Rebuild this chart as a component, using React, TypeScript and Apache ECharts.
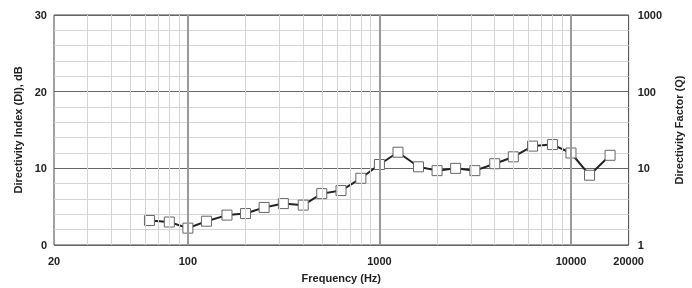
import React, { useEffect, useRef } from "react";
import * as echarts from "echarts";

const frequencies = [63, 80, 100, 125, 160, 200, 250, 315, 400, 500, 630, 800, 1000, 1250, 1600, 2000, 2500, 3150, 4000, 5000, 6300, 8000, 10000, 12500, 16000];
const diValues = [3.2, 3.0, 2.2, 3.1, 3.9, 4.1, 4.9, 5.4, 5.2, 6.7, 7.1, 8.7, 10.5, 12.1, 10.2, 9.7, 10.0, 9.7, 10.6, 11.5, 12.9, 13.1, 12.0, 9.1, 11.7];
const minorFreqGrid = [30, 40, 50, 60, 70, 80, 90, 200, 300, 400, 500, 600, 700, 800, 900, 2000, 3000, 4000, 5000, 6000, 7000, 8000, 9000];
const majorFreqGrid = [100, 1000, 10000];
const xTickLabels = [20, 100, 1000, 10000, 20000];

const FONT = "'Liberation Sans', Arial, sans-serif";

export default function App() {
  const ref = useRef<HTMLDivElement>(null);
  useEffect(() => {
    if (!ref.current) return;
    const chart = echarts.init(ref.current, undefined, { renderer: "svg" });
    const labelStyle = { color: "#222", fontSize: 11, fontWeight: "bold" as const, fontFamily: FONT };
    chart.setOption({
      animation: false,
      grid: { left: 54, right: 58, top: 15, bottom: 41, show: true, borderColor: "#444", borderWidth: 1, backgroundColor: "transparent" },
      xAxis: {
        type: "log",
        logBase: 10,
        min: 20,
        max: 20000,
        name: "Frequency (Hz)",
        nameLocation: "middle",
        nameGap: 27,
        nameTextStyle: { ...labelStyle },
        axisLine: { show: false },
        axisTick: { show: false },
        splitLine: { show: false },
        axisLabel: {
          ...labelStyle,
          margin: 10,
          showMinLabel: true,
          showMaxLabel: true,
          formatter: (v: number) => {
            const r = Math.round(v);
            return xTickLabels.includes(r) ? String(r) : "";
          },
        },
      },
      yAxis: [
        {
          type: "value",
          min: 0,
          max: 30,
          interval: 10,
          name: "Directivity Index (DI), dB",
          nameLocation: "middle",
          nameRotate: 90,
          nameGap: 20,
          nameTextStyle: { ...labelStyle },
          axisLine: { show: false },
          axisTick: { show: false },
          axisLabel: { ...labelStyle, margin: 7 },
          splitLine: { show: true, lineStyle: { color: "#666", width: 1 } },
          minorTick: { show: false, splitNumber: 5 },
          minorSplitLine: { show: true, lineStyle: { color: "#d4d4d4", width: 1 } },
        },
        {
          type: "log",
          logBase: 10,
          min: 1,
          max: 1000,
          position: "right",
          name: "Directivity Factor (Q)",
          nameLocation: "middle",
          nameRotate: 90,
          nameGap: 40,
          nameTextStyle: { ...labelStyle },
          axisLine: { show: false },
          axisTick: { show: false },
          splitLine: { show: false },
          axisLabel: { ...labelStyle, margin: 9, formatter: (v: number) => String(Math.round(v)) },
        },
      ],
      series: [
        {
          type: "line",
          silent: true,
          data: [],
          markLine: {
            silent: true,
            symbol: "none",
            label: { show: false },
            lineStyle: { color: "#d4d4d4", width: 1, type: "solid" },
            data: minorFreqGrid.map((f) => ({ xAxis: f })),
          },
          z: 1,
        },
        {
          type: "line",
          silent: true,
          data: [],
          markLine: {
            silent: true,
            symbol: "none",
            label: { show: false },
            lineStyle: { color: "#9a9a9a", width: 2, type: "solid" },
            data: majorFreqGrid.map((f) => ({ xAxis: f })),
          },
          z: 1,
        },
        {
          type: "line",
          data: frequencies.map((f, i) => [f, diValues[i]]),
          symbol: "rect",
          symbolSize: 10,
          showAllSymbol: true,
          lineStyle: { color: "#222", width: 2 },
          itemStyle: { color: "#fff", borderColor: "#666", borderWidth: 1 },
          z: 3,
        },
      ],
    });
    return () => chart.dispose();
  }, []);
  return <div ref={ref} style={{ position: "fixed", left: 0, top: 0, width: 692, height: 288 }} />;
}
